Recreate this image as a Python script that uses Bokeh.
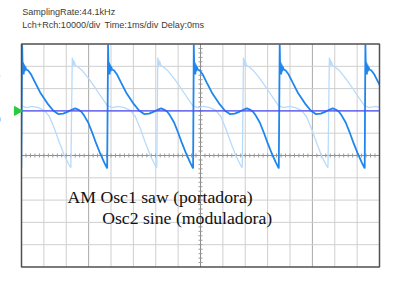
import numpy as np
from bokeh.plotting import figure
from bokeh.models import Range1d
from bokeh.core.properties import value
from bokeh.embed import file_html
from bokeh.resources import INLINE

# ---------------- data ----------------
# time in ms (1 ms/div), level in divisions (10000/div)
header_line1 = "SamplingRate:44.1kHz"
header_line2_parts = ["Lch+Rch:10000/div", "Time:1ms/div", "Delay:0ms"]
caption_line1 = "AM Osc1 saw (portadora)"
caption_line2 = "Osc2 sine (moduladora)"

# dark trace (Lch): times of the sharp edges and the shape of one cycle after each edge
dark_edge_ms = [-3.81, 0.03, 3.87, 7.70, 11.54, 15.37]
dark_cycle_dt = [0, 0.022, 0.045, 0.067, 0.089, 0.112, 0.134, 0.179, 0.268, 0.402,
                 0.581, 0.804, 0.983, 1.162, 1.385, 1.609, 1.832, 2.056, 2.235, 2.369,
                 2.503, 2.637, 2.771, 2.950, 3.128, 3.307, 3.486, 3.665, 3.799]
dark_cycle_div = [4.98, 3.81, 4.17, 3.63, 4.08, 3.77, 3.99, 3.86, 3.81, 3.63,
                  3.27, 2.83, 2.56, 2.29, 2.02, 1.86, 1.88, 1.97, 2.06, 2.11,
                  2.06, 1.97, 1.79, 1.48, 1.03, 0.54, 0.09, -0.31, -0.58]

# light trace (Rch)
light_edge_ms = [-1.57, 2.27, 6.09, 9.92, 13.76]
light_cycle_dt = [0, 0.022, 0.045, 0.067, 0.089, 0.134, 0.223, 0.447, 0.760, 1.073,
                  1.341, 1.564, 1.788, 2.056, 2.324, 2.592, 2.816, 3.039, 3.263, 3.486,
                  3.709, 3.777]
light_cycle_div = [4.39, 3.99, 4.30, 4.04, 4.22, 4.04, 3.99, 3.81, 3.41, 2.96,
                   2.56, 2.24, 2.15, 2.20, 2.15, 2.02, 1.75, 1.21, 0.58, 0.00,
                   -0.45, -0.54]

ground_level_div = 2.0

# ---------------- build traces from the read values ----------------
def build(edges, dts, levels):
    xs, ys = [], []
    for e in edges:
        for dt, lv in zip(dts, levels):
            xs.append(e + dt)
            ys.append(lv)
    return xs, ys

dark_x, dark_y = build(dark_edge_ms, dark_cycle_dt, dark_cycle_div)
light_x, light_y = build(light_edge_ms, light_cycle_dt, light_cycle_div)

# ---------------- figure ----------------
W, H = 400, 289
PX_PER_DIV_X = 22.375
PX_PER_DIV_Y = 22.3
X0_PX, Y0_PX = 21.0, 155.0   # left edge of screen, centre line
x_lo = -X0_PX / PX_PER_DIV_X
x_hi = (W - X0_PX) / PX_PER_DIV_X
y_hi = Y0_PX / PX_PER_DIV_Y
y_lo = (Y0_PX - H) / PX_PER_DIV_Y

p = figure(width=W, height=H, output_backend="svg", toolbar_location=None,
           x_range=Range1d(x_lo, x_hi), y_range=Range1d(y_lo, y_hi),
           min_border=0, min_border_left=0, min_border_right=0,
           min_border_top=0, min_border_bottom=0)
p.xaxis.visible = False
p.yaxis.visible = False
p.grid.visible = False
p.outline_line_color = None
p.background_fill_color = "white"
p.border_fill_color = "white"

# graticule
vx = [k for k in range(1, 16) if k != 8]
p.segment(x0=vx, y0=[-5] * len(vx), x1=vx, y1=[5] * len(vx),
          line_color=["#a8a8a8" if k in (3, 13) else "#cfcfcf" for k in vx], line_width=1)
hy = [k for k in range(-4, 5) if k != 0]
p.segment(x0=[0] * len(hy), y0=hy, x1=[16] * len(hy), y1=hy, line_color="#cfcfcf", line_width=1)
# centre axes with minor ticks
p.segment(x0=[0, 8], y0=[0, -5], x1=[16, 8], y1=[0, 5], line_color="#8c8c8c", line_width=1)
tx = np.arange(0.2, 16, 0.2)
p.segment(x0=tx, y0=-0.09, x1=tx, y1=0.09, line_color="#9a9a9a", line_width=1)
ty = np.arange(-4.8, 5, 0.2)
p.segment(x0=7.91, y0=ty, x1=8.09, y1=ty, line_color="#9a9a9a", line_width=1)

# traces
p.line(light_x, light_y, line_color="#b8dbfb", line_width=1.3)
p.line(dark_x, dark_y, line_color="#1f86ee", line_width=1.8)

# mask the parts of the traces that run past the screen edges
p.quad(left=[x_lo, 16.0], right=[0.0, x_hi], bottom=[y_lo, y_lo], top=[y_hi, y_hi],
       fill_color="white", line_color=None)

# frame
p.rect(x=8, y=0, width=16, height=10, fill_color=None, line_color="#505050", line_width=1.5)

# ground reference line and marker
p.line([0, 16], [ground_level_div, ground_level_div], line_color="#4d4df2", line_width=1.4)
p.scatter([-0.2], [ground_level_div], marker="triangle", angle=-np.pi / 2, size=9,
          fill_color="#27c93f", line_color="#27c93f")

# header texts
p.text(x=[0.03], y=[(Y0_PX - 11.5) / PX_PER_DIV_Y], text=[header_line1],
       text_font=value("Liberation Sans"), text_font_size="9.1px", text_color="#3c3c3c",
       text_baseline="middle", text_align="left")
header2_x = [(px - X0_PX) / PX_PER_DIV_X for px in (21.7, 104.0, 160.7)]
p.text(x=header2_x, y=[(Y0_PX - 24.0) / PX_PER_DIV_Y] * 3, text=header_line2_parts,
       text_font=value("Liberation Sans"), text_font_size="9.1px", text_color="#3c3c3c",
       text_baseline="middle", text_align="left")

# caption
p.text(x=[2.056], y=[-1.87], text=[caption_line1], text_font=value("Liberation Serif"),
       text_font_size="17.7px", text_color="#111111", text_baseline="alphabetic", text_align="left")
p.text(x=[3.607], y=[-2.825], text=[caption_line2], text_font=value("Liberation Serif"),
       text_font_size="17.7px", text_color="#111111", text_baseline="alphabetic", text_align="left")

open("out.html", "w").write(file_html(p, INLINE))
